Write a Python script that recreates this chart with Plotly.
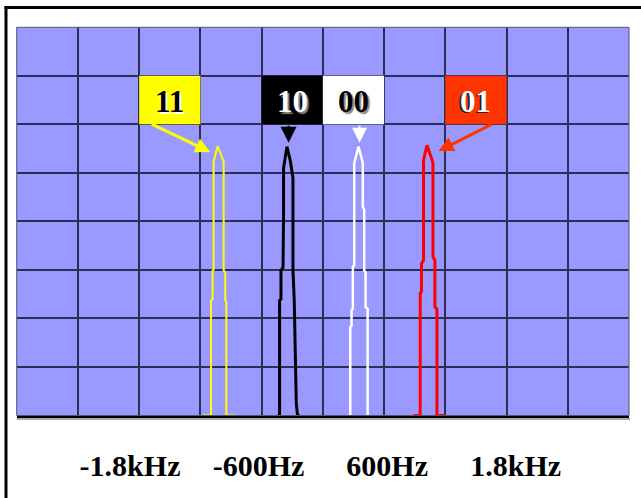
import numpy as np
import plotly.graph_objects as go

# ---------------- data ----------------
HZ_PER_DIV = 571.6          # frequency span of one grid column
N_XDIV = 10
N_YDIV = 8

tick_freqs = [-1800, -600, 600, 1800]
tick_text = ["-1.8kHz", "-600Hz", "600Hz", "1.8kHz"]

symbols = ["11", "10", "00", "01"]

# spectrum outlines (frequency in Hz, amplitude in grid divisions)
yellow_f = [-1119, -1044, -1044, -1029, -1029, -1020, -1020, -982, -926, -926, -911, -911, -901, -901, -817]
yellow_a = [0, 0, 2.37, 2.4, 2.99, 3.0, 5.23, 5.55, 5.23, 2.99, 2.95, 2.37, 2.35, 0, 0]

black_f = [-423, -404, -404, -391, -391, -372, -367, -367, -335, -304, -279, -279, -267, -248, -236, -217]
black_a = [0, 0, 2.37, 2.4, 2.99, 3.05, 4.1, 5.1, 5.54, 5.25, 4.9, 2.99, 2.37, 0.25, 0, 0]

white_f = [256, 256, 268, 268, 280, 280, 293, 293, 333, 373, 373, 386, 386, 399, 399, 418, 418]
white_a = [0, 1.82, 1.85, 2.17, 2.2, 3.06, 3.1, 5.2, 5.54, 5.2, 4.3, 4.25, 2.99, 2.95, 2.23, 2.2, 0]

red_f = [847, 909, 909, 921, 921, 940, 940, 972, 1021, 1028, 1028, 1046, 1046, 1065, 1065, 1142]
red_a = [0, 0, 2.52, 2.55, 3.13, 3.2, 5.26, 5.57, 5.26, 5.2, 3.27, 3.2, 2.23, 2.2, 0, 0]

# label boxes: grid column index and arrow geometry (tail -> tip)
box_cols = [2, 4, 5, 7]
box_row = 6
arrow_tail_f = [-1611, -320, 342, 1593]
arrow_tail_a = [6.02, 6.0, 6.0, 6.02]
arrow_tip_f = [-1051, -320, 342, 1080]
arrow_tip_a = [5.43, 5.62, 5.62, 5.45]

# ---------------- styles ----------------
W, H = 641, 498
plot_left, plot_right, plot_top, plot_bottom = 16.7, 629.0, 27.3, 415.5
xr = [-N_XDIV / 2 * HZ_PER_DIV, N_XDIV / 2 * HZ_PER_DIV]

trace_colors = ["#FFFF00", "#000000", "#FFFFFF", "#FF0000"]
trace_widths = [2, 3, 2.5, 3]
box_fill = ["#FFFF00", "#000000", "#FFFFFF", "#FF3300"]
box_text_color = ["#000000", "#FFFFFF", "#000000", "#FFFFFF"]
box_shadow = ["2px 2px 0px #FFFFFF", "2px 2px 1px #888888", "2px 2px 1px #888888", "-2px 1px 0px #222222"]
arrow_colors = ["#FFFF00", "#000000", "#FFFFFF", "#FF3300"]
arrow_widths = [3, 2, 2, 3]
arrow_sizes = [1.0, 1.6, 1.5, 1.0]
grid_color = "#2E2E55"
serif = "Liberation Serif"

fig = go.Figure()
for f, a, c, w in zip([yellow_f, black_f, white_f, red_f],
                      [yellow_a, black_a, white_a, red_a],
                      trace_colors, trace_widths):
    fig.add_trace(go.Scatter(x=f, y=a, mode="lines",
                             line=dict(color=c, width=w),
                             hoverinfo="skip", showlegend=False))

shapes = []
annotations = []
for i, sym in enumerate(symbols):
    x0 = xr[0] + box_cols[i] * HZ_PER_DIV
    shapes.append(dict(type="rect", xref="x", yref="y",
                       x0=x0, x1=x0 + HZ_PER_DIV, y0=box_row, y1=box_row + 1,
                       fillcolor=box_fill[i], line=dict(width=0), layer="above"))
    annotations.append(dict(x=x0 + HZ_PER_DIV / 2, y=box_row + 0.47, xref="x", yref="y",
                            text=sym, showarrow=False,
                            font=dict(family=serif, size=31, color=box_text_color[i],
                                      weight="bold", shadow=box_shadow[i])))
    annotations.append(dict(x=arrow_tip_f[i], y=arrow_tip_a[i], xref="x", yref="y",
                            ax=arrow_tail_f[i], ay=arrow_tail_a[i], axref="x", ayref="y",
                            text="", showarrow=True, arrowhead=2,
                            arrowsize=arrow_sizes[i], arrowwidth=arrow_widths[i],
                            arrowcolor=arrow_colors[i], standoff=0, startstandoff=0))

# plot-area border (thin grey), then mask the right margin, then outer frame (top + left)
px = lambda v: v / W
py = lambda v: (H - v) / H
shapes.append(dict(type="rect", xref="paper", yref="paper",
                   x0=px(plot_left), x1=px(plot_right), y0=py(plot_bottom), y1=py(plot_top),
                   line=dict(color="#555566", width=1), layer="above"))
shapes.append(dict(type="line", xref="paper", yref="paper",
                   x0=px(plot_left), x1=px(plot_right + 1), y0=py(plot_bottom + 3.5), y1=py(plot_bottom + 3.5),
                   line=dict(color="#AAAAAA", width=2), layer="above"))
shapes.append(dict(type="rect", xref="paper", yref="paper",
                   x0=px(630.5), x1=px(W + 5), y0=-0.02, y1=1.02,
                   fillcolor="#FFFFFF", line=dict(width=0), layer="above"))
shapes.append(dict(type="line", xref="paper", yref="paper",
                   x0=px(4.5), x1=px(W + 5), y0=py(7.5), y1=py(7.5),
                   line=dict(color="#000000", width=3), layer="above"))
shapes.append(dict(type="line", xref="paper", yref="paper",
                   x0=px(6), x1=px(6), y0=py(H + 5), y1=py(6),
                   line=dict(color="#000000", width=3), layer="above"))

minor_vals = list(np.arange(-N_XDIV // 2, N_XDIV // 2 + 1) * HZ_PER_DIV)

fig.update_layout(
    width=W, height=H,
    margin=dict(l=0, r=0, t=0, b=0, pad=0),
    paper_bgcolor="#FFFFFF",
    plot_bgcolor="#9999FF",
    showlegend=False,
    shapes=shapes,
    annotations=annotations,
    xaxis=dict(domain=[px(plot_left), px(plot_right)], range=xr,
               tickmode="array", tickvals=tick_freqs, ticktext=tick_text,
               showgrid=False, zeroline=False,
               ticks="outside", ticklen=21, tickcolor="rgba(0,0,0,0)",
               tickfont=dict(family=serif, size=30, color="#000000", weight="bold"),
               showline=True, linecolor="#000000", linewidth=3,
               minor=dict(tickmode="array", tickvals=minor_vals, showgrid=True,
                          gridcolor=grid_color, gridwidth=1.5, ticks=""),
               fixedrange=True),
    yaxis=dict(domain=[py(plot_bottom), py(plot_top)], range=[0, N_YDIV],
               dtick=1, tick0=0, showgrid=True, gridcolor=grid_color, gridwidth=1.5,
               showticklabels=False, zeroline=False, ticks="", fixedrange=True,
               showline=False),
)

fig.write_html("out.html", config={"displayModeBar": False, "responsive": False},
               post_script=("document.documentElement.style.margin='0';"
                            "document.documentElement.style.overflow='hidden';"
                            "document.documentElement.style.background='#FFFFFF';"
                            "document.body.style.margin='0';document.body.style.padding='0';"
                            "document.body.style.overflow='hidden';"))
